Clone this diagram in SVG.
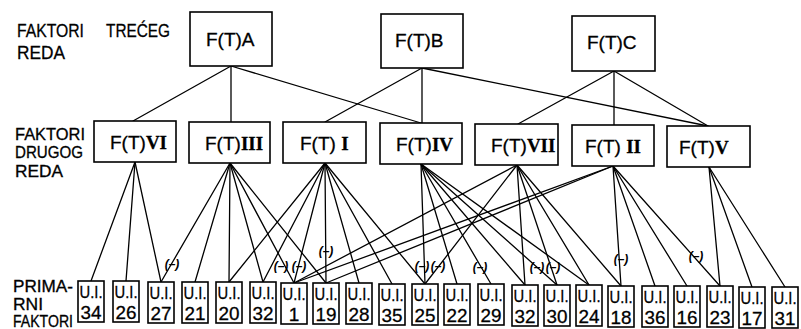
<svg xmlns="http://www.w3.org/2000/svg" width="801" height="329" viewBox="0 0 801 329">
<style>
.box{fill:#fff;stroke:#000;stroke-width:1.6}
.e{stroke:#000;stroke-width:1.3;fill:none;stroke-linecap:round}
.lbl{font-family:"Liberation Sans",Arial,sans-serif;font-size:16px;fill:#000;stroke:#000;stroke-width:0.3}
.ft{font-family:"Liberation Sans",Arial,sans-serif;font-size:19px;fill:#000;stroke:#000;stroke-width:0.3}
.rn{font-family:"Liberation Serif","Times New Roman",serif;font-weight:bold}
.u{font-family:"Liberation Sans",Arial,sans-serif;font-size:17px;text-anchor:middle;fill:#000;stroke:#000;stroke-width:0.3}
.n{font-family:"Liberation Sans",Arial,sans-serif;font-size:19px;text-anchor:middle;fill:#000;stroke:#000;stroke-width:0.3}
.neg{font-family:"Liberation Sans",Arial,sans-serif;font-size:12px;font-weight:bold;font-style:italic;text-anchor:middle;fill:#000}
</style>
<rect width="801" height="329" fill="#fff"/>
<g id="side-labels">
<text class="ft" x="17" y="37" textLength="67" lengthAdjust="spacingAndGlyphs">FAKTORI</text>
<text class="ft" x="106" y="37" textLength="64" lengthAdjust="spacingAndGlyphs">TREĆEG</text>
<text class="ft" x="17" y="59" textLength="48" lengthAdjust="spacingAndGlyphs">REDA</text>
<text class="lbl" x="15" y="140" textLength="70" lengthAdjust="spacingAndGlyphs">FAKTORI</text>
<text class="lbl" x="15" y="158" textLength="68" lengthAdjust="spacingAndGlyphs">DRUGOG</text>
<text class="lbl" x="15" y="177" textLength="48" lengthAdjust="spacingAndGlyphs">REDA</text>
<text class="lbl" x="13" y="292" textLength="60" lengthAdjust="spacingAndGlyphs">PRIMA-</text>
<text class="lbl" x="13" y="310" textLength="30" lengthAdjust="spacingAndGlyphs">RNI</text>
<text class="lbl" x="13" y="327" textLength="60" lengthAdjust="spacingAndGlyphs">FAKTORI</text>
</g>
<g id="connectors">
<line class="e" x1="231" y1="66" x2="133" y2="121"/>
<line class="e" x1="231" y1="66" x2="231" y2="122"/>
<line class="e" x1="231" y1="66" x2="421" y2="123"/>
<line class="e" x1="422" y1="68" x2="325" y2="122"/>
<line class="e" x1="422" y1="68" x2="422" y2="123"/>
<line class="e" x1="422" y1="68" x2="708" y2="126"/>
<line class="e" x1="614" y1="71" x2="518" y2="124"/>
<line class="e" x1="614" y1="71" x2="614" y2="125"/>
<line class="e" x1="614" y1="71" x2="708" y2="126"/>
<line class="e" x1="135" y1="162" x2="91" y2="281"/>
<line class="e" x1="135" y1="162" x2="126" y2="281"/>
<line class="e" x1="135" y1="162" x2="161" y2="282"/>
<line class="e" x1="230" y1="163" x2="161" y2="282"/>
<line class="e" x1="230" y1="163" x2="195" y2="282"/>
<line class="e" x1="230" y1="163" x2="229" y2="282"/>
<line class="e" x1="230" y1="163" x2="263" y2="282"/>
<line class="e" x1="230" y1="163" x2="294" y2="283"/>
<line class="e" x1="230" y1="163" x2="326" y2="283"/>
<line class="e" x1="325" y1="163" x2="229" y2="282"/>
<line class="e" x1="325" y1="163" x2="263" y2="282"/>
<line class="e" x1="325" y1="163" x2="294" y2="283"/>
<line class="e" x1="325" y1="163" x2="326" y2="283"/>
<line class="e" x1="325" y1="163" x2="359" y2="283"/>
<line class="e" x1="325" y1="163" x2="392" y2="284"/>
<line class="e" x1="325" y1="163" x2="425" y2="284"/>
<line class="e" x1="421" y1="164" x2="425" y2="284"/>
<line class="e" x1="421" y1="164" x2="457" y2="284"/>
<line class="e" x1="421" y1="164" x2="491" y2="284"/>
<line class="e" x1="421" y1="164" x2="525" y2="285"/>
<line class="e" x1="421" y1="164" x2="557" y2="285"/>
<line class="e" x1="421" y1="164" x2="589" y2="285"/>
<line class="e" x1="517" y1="165" x2="294" y2="283"/>
<line class="e" x1="517" y1="165" x2="425" y2="284"/>
<line class="e" x1="517" y1="165" x2="525" y2="285"/>
<line class="e" x1="517" y1="165" x2="557" y2="285"/>
<line class="e" x1="517" y1="165" x2="589" y2="285"/>
<line class="e" x1="517" y1="165" x2="621" y2="286"/>
<line class="e" x1="613" y1="166" x2="294" y2="283"/>
<line class="e" x1="613" y1="166" x2="326" y2="283"/>
<line class="e" x1="613" y1="166" x2="621" y2="286"/>
<line class="e" x1="613" y1="166" x2="655" y2="286"/>
<line class="e" x1="613" y1="166" x2="687" y2="286"/>
<line class="e" x1="613" y1="166" x2="720" y2="286"/>
<line class="e" x1="709" y1="167" x2="720" y2="286"/>
<line class="e" x1="709" y1="167" x2="752" y2="287"/>
<line class="e" x1="709" y1="167" x2="785" y2="287"/>
<text class="neg" x="172" y="268">(–)</text>
<text class="neg" x="281" y="270">(–)</text>
<text class="neg" x="299" y="270">(–)</text>
<text class="neg" x="326" y="255">(–)</text>
<text class="neg" x="422" y="270">(–)</text>
<text class="neg" x="438" y="270">(–)</text>
<text class="neg" x="480" y="271">(–)</text>
<text class="neg" x="537" y="271">(–)</text>
<text class="neg" x="553" y="271">(–)</text>
<text class="neg" x="621" y="263">(–)</text>
<text class="neg" x="696" y="260">(–)</text>
</g>
<g id="FTA"><rect class="box" x="190" y="12" width="82" height="54"/><text class="ft" x="206" y="46">F(T)A</text></g>
<g id="FTB"><rect class="box" x="381" y="14" width="82" height="54"/><text class="ft" x="395" y="47">F(T)B</text></g>
<g id="FTC"><rect class="box" x="572" y="16" width="83" height="55"/><text class="ft" x="587" y="49">F(T)C</text></g>
<g id="FTVI"><rect class="box" x="94" y="121" width="82" height="41"/><text class="ft" x="110" y="149">F(T)<tspan class="rn">VI</tspan></text></g>
<g id="FTIII"><rect class="box" x="189" y="122" width="81" height="41"/><text class="ft" x="205" y="150">F(T)<tspan class="rn">III</tspan></text></g>
<g id="FTI"><rect class="box" x="283" y="122" width="83" height="41"/><text class="ft" x="300" y="150">F(T) <tspan class="rn">I</tspan></text></g>
<g id="FTIV"><rect class="box" x="380" y="123" width="82" height="41"/><text class="ft" x="396" y="151">F(T)<tspan class="rn">IV</tspan></text></g>
<g id="FTVII"><rect class="box" x="475" y="124" width="83" height="41"/><text class="ft" x="491" y="152">F(T)<tspan class="rn">VII</tspan></text></g>
<g id="FTII"><rect class="box" x="572" y="125" width="82" height="41"/><text class="ft" x="585" y="153">F(T) <tspan class="rn">II</tspan></text></g>
<g id="FTV"><rect class="box" x="667" y="126" width="83" height="41"/><text class="ft" x="679" y="154">F(T)<tspan class="rn">V</tspan></text></g>
<g id="UI34"><rect class="box" x="78" y="281" width="26" height="41"/><text class="u" x="91" y="298" textLength="23" lengthAdjust="spacingAndGlyphs">U.I.</text><text class="n" x="91" y="319" textLength="21" lengthAdjust="spacingAndGlyphs">34</text></g>
<g id="UI26"><rect class="box" x="113" y="281" width="26" height="41"/><text class="u" x="126" y="298" textLength="23" lengthAdjust="spacingAndGlyphs">U.I.</text><text class="n" x="126" y="319" textLength="21" lengthAdjust="spacingAndGlyphs">26</text></g>
<g id="UI27"><rect class="box" x="148" y="282" width="26" height="41"/><text class="u" x="161" y="299" textLength="23" lengthAdjust="spacingAndGlyphs">U.I.</text><text class="n" x="161" y="320" textLength="21" lengthAdjust="spacingAndGlyphs">27</text></g>
<g id="UI21"><rect class="box" x="182" y="282" width="26" height="41"/><text class="u" x="195" y="299" textLength="23" lengthAdjust="spacingAndGlyphs">U.I.</text><text class="n" x="195" y="320" textLength="21" lengthAdjust="spacingAndGlyphs">21</text></g>
<g id="UI20"><rect class="box" x="216" y="282" width="26" height="41"/><text class="u" x="229" y="299" textLength="23" lengthAdjust="spacingAndGlyphs">U.I.</text><text class="n" x="229" y="320" textLength="21" lengthAdjust="spacingAndGlyphs">20</text></g>
<g id="UI32a"><rect class="box" x="250" y="282" width="26" height="41"/><text class="u" x="263" y="299" textLength="23" lengthAdjust="spacingAndGlyphs">U.I.</text><text class="n" x="263" y="320" textLength="21" lengthAdjust="spacingAndGlyphs">32</text></g>
<g id="UI1"><rect class="box" x="281" y="283" width="26" height="41"/><text class="u" x="294" y="300" textLength="23" lengthAdjust="spacingAndGlyphs">U.I.</text><text class="n" x="294" y="321">1</text></g>
<g id="UI19"><rect class="box" x="313" y="283" width="26" height="41"/><text class="u" x="326" y="300" textLength="23" lengthAdjust="spacingAndGlyphs">U.I.</text><text class="n" x="326" y="321" textLength="21" lengthAdjust="spacingAndGlyphs">19</text></g>
<g id="UI28"><rect class="box" x="346" y="283" width="26" height="41"/><text class="u" x="359" y="300" textLength="23" lengthAdjust="spacingAndGlyphs">U.I.</text><text class="n" x="359" y="321" textLength="21" lengthAdjust="spacingAndGlyphs">28</text></g>
<g id="UI35"><rect class="box" x="379" y="284" width="26" height="41"/><text class="u" x="392" y="301" textLength="23" lengthAdjust="spacingAndGlyphs">U.I.</text><text class="n" x="392" y="322" textLength="21" lengthAdjust="spacingAndGlyphs">35</text></g>
<g id="UI25"><rect class="box" x="412" y="284" width="26" height="41"/><text class="u" x="425" y="301" textLength="23" lengthAdjust="spacingAndGlyphs">U.I.</text><text class="n" x="425" y="322" textLength="21" lengthAdjust="spacingAndGlyphs">25</text></g>
<g id="UI22"><rect class="box" x="444" y="284" width="26" height="41"/><text class="u" x="457" y="301" textLength="23" lengthAdjust="spacingAndGlyphs">U.I.</text><text class="n" x="457" y="322" textLength="21" lengthAdjust="spacingAndGlyphs">22</text></g>
<g id="UI29"><rect class="box" x="478" y="284" width="26" height="41"/><text class="u" x="491" y="301" textLength="23" lengthAdjust="spacingAndGlyphs">U.I.</text><text class="n" x="491" y="322" textLength="21" lengthAdjust="spacingAndGlyphs">29</text></g>
<g id="UI32b"><rect class="box" x="512" y="285" width="26" height="41"/><text class="u" x="525" y="302" textLength="23" lengthAdjust="spacingAndGlyphs">U.I.</text><text class="n" x="525" y="323" textLength="21" lengthAdjust="spacingAndGlyphs">32</text></g>
<g id="UI30"><rect class="box" x="544" y="285" width="26" height="41"/><text class="u" x="557" y="302" textLength="23" lengthAdjust="spacingAndGlyphs">U.I.</text><text class="n" x="557" y="323" textLength="21" lengthAdjust="spacingAndGlyphs">30</text></g>
<g id="UI24"><rect class="box" x="576" y="285" width="26" height="41"/><text class="u" x="589" y="302" textLength="23" lengthAdjust="spacingAndGlyphs">U.I.</text><text class="n" x="589" y="323" textLength="21" lengthAdjust="spacingAndGlyphs">24</text></g>
<g id="UI18"><rect class="box" x="608" y="286" width="26" height="41"/><text class="u" x="621" y="303" textLength="23" lengthAdjust="spacingAndGlyphs">U.I.</text><text class="n" x="621" y="324" textLength="21" lengthAdjust="spacingAndGlyphs">18</text></g>
<g id="UI36"><rect class="box" x="642" y="286" width="26" height="41"/><text class="u" x="655" y="303" textLength="23" lengthAdjust="spacingAndGlyphs">U.I.</text><text class="n" x="655" y="324" textLength="21" lengthAdjust="spacingAndGlyphs">36</text></g>
<g id="UI16"><rect class="box" x="674" y="286" width="26" height="41"/><text class="u" x="687" y="303" textLength="23" lengthAdjust="spacingAndGlyphs">U.I.</text><text class="n" x="687" y="324" textLength="21" lengthAdjust="spacingAndGlyphs">16</text></g>
<g id="UI23"><rect class="box" x="707" y="286" width="26" height="41"/><text class="u" x="720" y="303" textLength="23" lengthAdjust="spacingAndGlyphs">U.I.</text><text class="n" x="720" y="324" textLength="21" lengthAdjust="spacingAndGlyphs">23</text></g>
<g id="UI17"><rect class="box" x="739" y="287" width="26" height="41"/><text class="u" x="752" y="304" textLength="23" lengthAdjust="spacingAndGlyphs">U.I.</text><text class="n" x="752" y="325" textLength="21" lengthAdjust="spacingAndGlyphs">17</text></g>
<g id="UI31"><rect class="box" x="772" y="287" width="26" height="41"/><text class="u" x="785" y="304" textLength="23" lengthAdjust="spacingAndGlyphs">U.I.</text><text class="n" x="785" y="325" textLength="21" lengthAdjust="spacingAndGlyphs">31</text></g>
</svg>
